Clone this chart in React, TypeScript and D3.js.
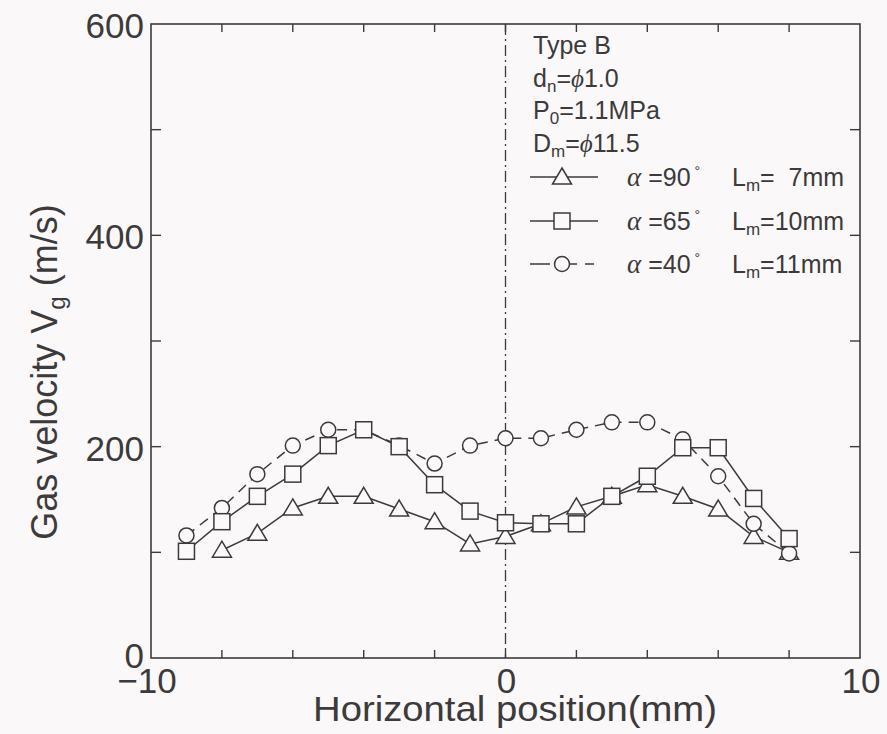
import React from 'react';
import * as d3 from 'd3';

// Gas velocity profiles, Type B nozzle
const xTri = [-8, -7, -6, -5, -4, -3, -2, -1, 0, 1, 2, 3, 4, 5, 6, 7, 8];
const vTri = [102, 118, 142, 153, 153, 141, 129, 108, 115, 127, 143, 153, 164, 153, 141, 115, 100];

const xSq = [-9, -8, -7, -6, -5, -4, -3, -2, -1, 0, 1, 2, 3, 4, 5, 6, 7, 8];
const vSq = [101, 129, 153, 174, 201, 216, 200, 164, 139, 128, 127, 127, 153, 172, 199, 199, 151, 113];

const xCirc = [-9, -8, -7, -6, -5, -4, -3, -2, -1, 0, 1, 2, 3, 4, 5, 6, 7, 8];
const vCirc = [116, 142, 174, 201, 216, 216, 201, 184, 201, 208, 208, 216, 223, 223, 207, 172, 127, 99];

const xTickLabels = [-10, 0, 10];
const yTickLabels = [0, 200, 400, 600];

const W = 887;
const H = 734;
const ink = '#3c3a3b';
const font = '"Liberation Sans", Arial, sans-serif';
const serif = '"Liberation Serif", "DejaVu Serif", serif';

const x = d3.scaleLinear().domain([-10, 10]).range([151, 860]);
const y = d3.scaleLinear().domain([0, 600]).range([658, 24]);

function marker(kind: string, cx: number, cy: number, key?: any) {
  const common = { fill: '#fbf9f9', stroke: ink, strokeWidth: 1.5 };
  if (kind === 'tri') {
    const p = `M${cx},${cy - 9}L${cx + 9.5},${cy + 7}L${cx - 9.5},${cy + 7}Z`;
    return <path key={key} d={p} {...common} />;
  }
  if (kind === 'sq') {
    return <rect key={key} x={cx - 8} y={cy - 8} width={16} height={16} {...common} />;
  }
  return <circle key={key} cx={cx} cy={cy} r={7.5} {...common} />;
}

function Series({ xs, vs, kind, dash }: { xs: number[]; vs: number[]; kind: string; dash?: string }) {
  const pts: [number, number][] = xs.map((d, i) => [d, vs[i]]);
  const line = d3
    .line<[number, number]>()
    .x((d) => x(d[0]))
    .y((d) => y(d[1]));
  return (
    <g>
      <path d={line(pts) || ''} fill="none" stroke={ink} strokeWidth={1.5} strokeDasharray={dash} />
      {pts.map((d, i) => marker(kind, x(d[0]), y(d[1]), i))}
    </g>
  );
}

export default function App() {
  const xTicks = d3.range(-8, 9, 2);
  const yTicks = d3.range(100, 600, 100);
  const rows = [
    { kind: 'tri', cy: 177, a: '90', l: '=  7mm' },
    { kind: 'sq', cy: 221, a: '65', l: '=10mm' },
    { kind: 'circ', cy: 264, a: '40', l: '=11mm' },
  ];
  return (
    <svg width={W} height={H} style={{ position: 'absolute', left: 0, top: 0 }} fontFamily={font}>
      <rect width={W} height={H} fill="#faf8f8" />

      {/* centre line */}
      <line x1={x(0)} x2={x(0)} y1={y(600)} y2={y(0)} stroke={ink} strokeWidth={1.3} strokeDasharray="11,4,2,4" />

      {/* frame and ticks */}
      <rect x={x(-10)} y={y(600)} width={x(10) - x(-10)} height={y(0) - y(600)} fill="none" stroke={ink} strokeWidth={1.6} />
      {xTicks.map((t) => (
        <g key={'xt' + t}>
          <line x1={x(t)} x2={x(t)} y1={y(0)} y2={y(0) - 8} stroke={ink} strokeWidth={1.4} />
          <line x1={x(t)} x2={x(t)} y1={y(600)} y2={y(600) + 8} stroke={ink} strokeWidth={1.4} />
        </g>
      ))}
      {yTicks.map((t) => (
        <g key={'yt' + t}>
          <line x1={x(-10)} x2={x(-10) + 10} y1={y(t)} y2={y(t)} stroke={ink} strokeWidth={1.4} />
          <line x1={x(10)} x2={x(10) - 10} y1={y(t)} y2={y(t)} stroke={ink} strokeWidth={1.4} />
        </g>
      ))}

      {/* tick labels */}
      {yTickLabels.map((t) => (
        <text key={'yl' + t} x={144} y={y(t) + (t === 0 ? 10 : 14)} textAnchor="end" fontSize={35} fill={ink}>
          {t}
        </text>
      ))}
      {xTickLabels.map((t) => (
        <text key={'xl' + t} x={x(t) - (t < 0 ? 4 : -1)} y={693} textAnchor="middle" fontSize={35} fill={ink}>
          {t < 0 ? '\u2212' + Math.abs(t) : t}
        </text>
      ))}

      {/* axis titles */}
      <text x={313} y={721} textLength={404} lengthAdjust="spacingAndGlyphs" fontSize={35} fill={ink}>
        Horizontal position(mm)
      </text>
      <text transform="translate(57,372) rotate(-90)" textAnchor="middle" fontSize={36} fill={ink}>
        Gas velocity V
        <tspan fontSize={24} dy={8}>g</tspan>
        <tspan dy={-8}> (m/s)</tspan>
      </text>

      {/* data */}
      <Series xs={xTri} vs={vTri} kind="tri" />
      <Series xs={xCirc} vs={vCirc} kind="circ" dash="10,7" />
      <Series xs={xSq} vs={vSq} kind="sq" />

      {/* legend / conditions */}
      <g fontSize={25} fill={ink}>
        <text x={533} y={54}>Type B</text>
        <text x={533} y={87}>
          d<tspan fontSize={17} dy={5}>n</tspan>
          <tspan dy={-5}>=</tspan>
          <tspan fontFamily={serif} fontStyle="italic">{'\u03D5'}</tspan>1.0
        </text>
        <text x={533} y={119}>
          P<tspan fontSize={17} dy={5}>0</tspan>
          <tspan dy={-5}>=1.1MPa</tspan>
        </text>
        <text x={533} y={152}>
          D<tspan fontSize={17} dy={5}>m</tspan>
          <tspan dy={-5}>=</tspan>
          <tspan fontFamily={serif} fontStyle="italic">{'\u03D5'}</tspan>11.5
        </text>
        {rows.map((r) => (
          <g key={r.kind}>
            {r.kind === 'circ' ? (
              <g>
                <line x1={530} x2={550} y1={r.cy} y2={r.cy} stroke={ink} strokeWidth={1.5} />
                <line x1={568} x2={598} y1={r.cy} y2={r.cy} stroke={ink} strokeWidth={1.5} strokeDasharray="9,8" />
              </g>
            ) : (
              <line x1={530} x2={598} y1={r.cy} y2={r.cy} stroke={ink} strokeWidth={1.5} />
            )}
            {marker(r.kind, 562, r.cy)}
            <text x={627} y={r.cy + 9} style={{ whiteSpace: 'pre' }}>
              <tspan fontFamily={serif} fontStyle="italic" fontSize={27}>{'\u03B1'}</tspan> ={r.a}
              <tspan fontSize={14} dy={-10}>{' \u00B0'}</tspan>
            </text>
            <text x={732} y={r.cy + 9} style={{ whiteSpace: 'pre' }}>
              L<tspan fontSize={17} dy={5}>m</tspan>
              <tspan dy={-5}>{r.l}</tspan>
            </text>
          </g>
        ))}
      </g>
    </svg>
  );
}
